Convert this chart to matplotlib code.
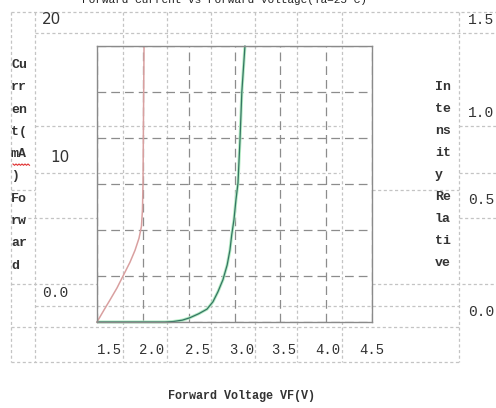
import numpy as np
import matplotlib.pyplot as plt

# forward voltage (V) / forward current (mA) along each curve
vf_red = [1.50, 1.576, 1.642, 1.718, 1.784, 1.86, 1.915, 1.958, 1.985, 1.996, 2.002, 2.007, 2.013]
if_red = [0.0, 1.3, 2.4, 3.7, 5.0, 6.5, 7.8, 9.1, 10.4, 12.2, 15.1, 22.0, 29.9]
vf_green = [1.50, 2.24, 2.33, 2.43, 2.51, 2.61, 2.70, 2.765, 2.82, 2.874, 2.92, 2.95,
            2.97, 2.994, 3.016, 3.038, 3.06, 3.08, 3.114]
if_green = [0.0, 0.0, 0.05, 0.2, 0.45, 0.9, 1.4, 2.2, 3.3, 4.6, 6.2, 7.8,
            9.5, 11.1, 13.3, 15.1, 19.8, 25.0, 30.0]

x_ticks = [1.5, 2.0, 2.5, 3.0, 3.5, 4.0, 4.5]
y_ticks = [0, 5, 10, 15, 20, 25, 30]
x_labels = ["1.5", "2.0", "2.5", "3.0", "3.5", "4.0", "4.5"]
left_labels = ["20", "10", "0.0"]
right_labels = ["1.5", "1.0", "0.5", "0.0"]
left_title = ["Current(mA)", "Forward"]
right_title = ["Intensity", "Relative"]
title = "Forward Current vs Forward Voltage(Ta=25°C)"
x_title = "Forward Voltage VF(V)"

W, H = 496, 408
fig = plt.figure(figsize=(W / 100, H / 100), dpi=100)

# page layer in pixel units: table borders and the loose labels
bg = fig.add_axes([0, 0, 1, 1])
bg.set_xlim(0, W)
bg.set_ylim(H, 0)
bg.axis("off")

tbl = dict(color="#c4c4c4", lw=0.9, ls=(0, (2.5, 2)))
hlines = [(12, 11, 496), (33, 35, 496), (126, 35, 340), (126, 459, 496),
          (173, 35, 340), (173, 459, 496), (190, 11, 35), (190, 372, 459),
          (218, 11, 97), (218, 459, 496), (284, 11, 97), (284, 372, 496),
          (306, 35, 459), (327, 11, 459), (362, 11, 459)]
for y, x0, x1 in hlines:
    bg.plot([x0, x1], [y, y], **tbl)
for x in [11, 35, 123, 167, 211, 255, 297, 342, 459]:
    bg.plot([x, x], [12, 362], **tbl)

mono = "Liberation Mono"
bg.text(82, 3, title, family=mono, fontsize=8, va="baseline", ha="left", color="#222222")

# left axis title, broken into two-character pieces
pieces = [w[i:i + 2] for w in left_title for i in range(0, len(w), 2)]
for k, p in enumerate(pieces):
    bg.text(11, 65 + k * 22.3, p, family=mono, fontsize=9.5, fontweight="bold",
            va="center", ha="left", color="#333333")
pieces = [w[i:i + 2] for w in right_title for i in range(0, len(w), 2)]
for k, p in enumerate(pieces):
    bg.text(435, 87 + k * 22, p, family=mono, fontsize=9.5, fontweight="bold",
            va="center", ha="left", color="#333333")

# spell-check squiggle under "mA"
sx = np.arange(13, 31, 1.5)
bg.plot(sx, 164 + 1.3 * (np.arange(len(sx)) % 2), color="#e03030", lw=0.8)

for lab, (x, y) in zip(left_labels, [(42, 20), (50, 158), (42, 293)]):
    fam = "DejaVu Sans" if "." not in lab else mono
    size = 11 if "." not in lab else 10.5
    bg.text(x, y, lab, family=fam, fontsize=size, va="center", ha="left", color="#333333")
for lab, y in zip(right_labels, [20, 113, 200, 312]):
    bg.text(468, y, lab, family=mono, fontsize=10.5, va="center", ha="left", color="#333333")
for lab, x in zip(x_labels, [109, 152, 198, 242, 284, 328, 372]):
    bg.text(x, 350, lab, family=mono, fontsize=10, va="center", ha="center", color="#333333")
bg.text(241, 396, x_title, family=mono, fontsize=8.5, fontweight="bold",
        va="center", ha="center", color="#333333")

# the chart itself
ax = fig.add_axes([97 / W, 1 - 322 / H, 275 / W, 276 / H])
ax.patch.set_alpha(0)
ax.set_xlim(1.5, 4.5)
ax.set_ylim(0, 30)
ax.set_xticks(x_ticks)
ax.set_yticks(y_ticks)
ax.tick_params(length=0, labelbottom=False, labelleft=False)
ax.grid(True, color="#8c8c8c", lw=0.9, ls=(0, (7, 4)))
for s in ax.spines.values():
    s.set_color("#8a8a8a")
    s.set_linewidth(1.0)

ax.plot(vf_green, if_green, color="#b4ecc4", lw=2.2, clip_on=False, solid_capstyle="butt")
ax.plot(vf_green, if_green, color="#357563", lw=0.9, clip_on=False)
ax.plot(vf_red, if_red, color="#d9a0a0", lw=1.1, clip_on=False)

fig.savefig("out.png", dpi=100)
